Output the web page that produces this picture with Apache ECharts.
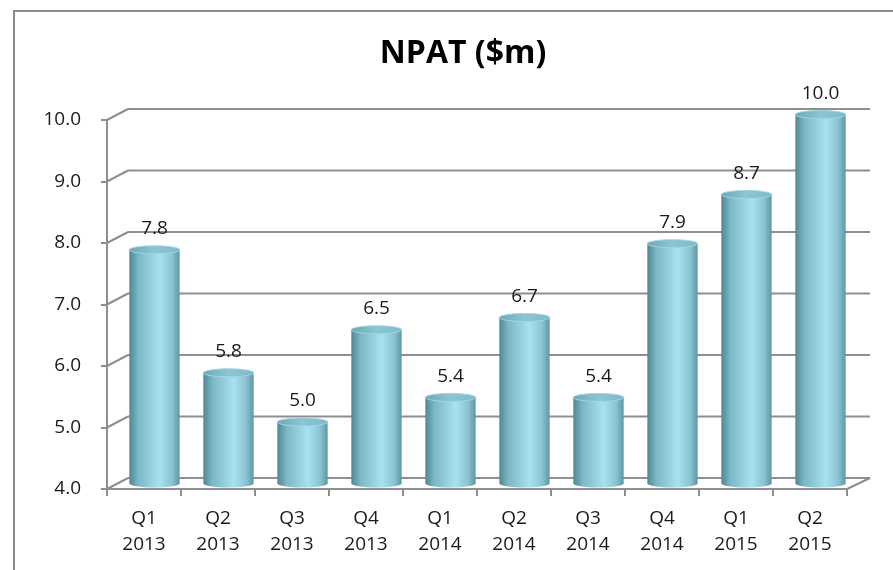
<!DOCTYPE html>
<html>
<head>
<meta charset="utf-8">
<title>NPAT ($m)</title>
<script src="https://cdn.jsdelivr.net/npm/echarts@6/dist/echarts.min.js"></script>
<style>
	html, body { margin: 0; padding: 0; background: #fff; }
	#chart { width: 893px; height: 570px; }
</style>
</head>
<body>
<div id="chart"></div>
<script>
// data
var quarters = ['Q1\n2013', 'Q2\n2013', 'Q3\n2013', 'Q4\n2013', 'Q1\n2014', 'Q2\n2014', 'Q3\n2014', 'Q4\n2014', 'Q1\n2015', 'Q2\n2015'];
var npat = [7.8, 5.8, 5.0, 6.5, 5.4, 6.7, 5.4, 7.9, 8.7, 10.0];
var yTicks = [4, 5, 6, 7, 8, 9, 10];

var Y_MIN = 4, Y_MAX = 10;
var DX = 21, DY = -11; // depth of the fake 3d box
var LINE = '#8f8f8f';
var FONT = '"Open Sans", "DejaVu Sans", sans-serif';

var myChart = echarts.init(document.getElementById('chart'));

// back wall grid lines + side diagonals
function renderWall(params, api){
	var cs = params.coordSys;
	var v = api.value(1);
	var y = api.coord([0, v])[1];
	var x0 = cs.x, x1 = cs.x + cs.width;
	var style = { stroke: LINE, lineWidth: 2 };
	var kids = [
		{ type: 'line', shape: { x1: x0, y1: y, x2: x0 + DX, y2: y + DY }, style: style },
		{ type: 'line', shape: { x1: x0 + DX, y1: y + DY, x2: x1 + DX + 2, y2: y + DY }, style: style }
	];
	if(v == Y_MIN){
		kids.push({ type: 'line', shape: { x1: x1, y1: y, x2: x1 + DX + 2, y2: y + DY }, style: style });
	}
	return { type: 'group', children: kids };
}

// cylinder bars
function renderCyl(params, api){
	var i = api.value(0), v = api.value(1);
	var top = api.coord([i, v]);
	var base = api.coord([i, Y_MIN]);
	var w = api.size([1, 0])[0] * 0.68;
	var rx = w / 2, ry = 4;
	var cx = top[0] + DX / 2;
	var yt = top[1] + DY / 2;
	var yb = base[1] + DY / 2;
	var body = new echarts.graphic.LinearGradient(0, 0, 1, 0, [
		{ offset: 0, color: '#4f8796' },
		{ offset: 0.18, color: '#7cb7c6' },
		{ offset: 0.6, color: '#a8e1f0' },
		{ offset: 0.85, color: '#8ac3d2' },
		{ offset: 1, color: '#6096a4' }
	]);
	var cap = new echarts.graphic.LinearGradient(0, 0, 1, 0, [
		{ offset: 0, color: '#6ea6b4' },
		{ offset: 0.5, color: '#8cc6d4' },
		{ offset: 1, color: '#7fb8c6' }
	]);
	return {
		type: 'group',
		children: [
			{ type: 'ellipse', shape: { cx: cx, cy: yb, rx: rx, ry: ry }, style: { fill: body } },
			{ type: 'rect', shape: { x: cx - rx, y: yt, width: w, height: yb - yt }, style: { fill: body } },
			{ type: 'ellipse', shape: { cx: cx, cy: yt, rx: rx, ry: ry }, style: { fill: cap, stroke: '#a3d6e3', lineWidth: 1 } },
			{
				type: 'text',
				style: {
					x: cx, y: yt - 21,
					text: v.toFixed(1),
					align: 'center', verticalAlign: 'middle',
					font: '19px ' + FONT,
					fill: '#1a1a1a'
				}
			}
		]
	};
}

var option = {
	animation: false,
	backgroundColor: '#fff',
	title: {
		text: 'NPAT ($m)',
		left: 458,
		top: 33,
		textAlign: 'center',
		textStyle: { fontFamily: FONT, fontSize: 32, fontWeight: 'bold', color: '#000' }
	},
	graphic: [{
		type: 'rect',
		shape: { x: 14, y: 11, width: 900, height: 600 },
		style: { fill: 'none', stroke: '#8a8a8a', lineWidth: 2 },
		silent: true
	}],
	grid: { left: 107, right: 46, top: 120, bottom: 81 },
	xAxis: {
		type: 'category',
		data: quarters,
		boundaryGap: true,
		axisLine: { show: true, lineStyle: { color: LINE, width: 2 } },
		axisTick: { show: true, length: 7, lineStyle: { color: LINE, width: 2 } },
		axisLabel: { margin: 17, fontFamily: FONT, fontSize: 19, lineHeight: 26, color: '#1a1a1a' },
		splitLine: { show: false }
	},
	yAxis: {
		type: 'value',
		min: Y_MIN,
		max: Y_MAX,
		interval: 1,
		axisLine: { show: true, lineStyle: { color: LINE, width: 2 } },
		axisTick: { show: true, length: 6, lineStyle: { color: LINE, width: 2 } },
		axisLabel: {
			margin: 26,
			fontFamily: FONT, fontSize: 19, color: '#1a1a1a',
			formatter: function(val){ return val.toFixed(1); }
		},
		splitLine: { show: false }
	},
	series: [{
		type: 'custom',
		renderItem: renderWall,
		data: yTicks.map(function(t){ return [0, t]; }),
		clip: false,
		silent: true,
		z: 1
	}, {
		type: 'custom',
		renderItem: renderCyl,
		data: npat.map(function(v, i){ return [i, v]; }),
		clip: false,
		z: 3
	}]
};

myChart.setOption(option);
</script>
</body>
</html>
